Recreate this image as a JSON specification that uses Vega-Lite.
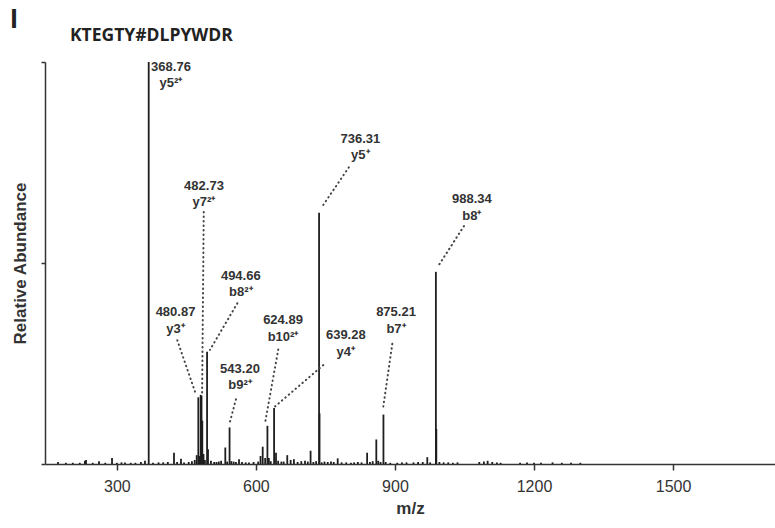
{
  "$schema": "https://vega.github.io/schema/vega-lite/v6.json",
  "autosize": {"type": "none"},
  "padding": {"left": 45, "top": 62, "right": 0, "bottom": 64},
  "width": 730,
  "height": 402,
  "background": "white",
  "config": {
    "view": {"stroke": null},
    "axis": {
      "labelFont": "Liberation Sans",
      "titleFont": "Liberation Sans",
      "domainColor": "#333333",
      "tickColor": "#333333",
      "labelColor": "#333333",
      "titleColor": "#333333",
      "domainWidth": 1.5,
      "tickWidth": 1.5,
      "grid": false
    }
  },
  "datasets": {
    "peaks": [
      {"mz": 173, "intensity": 0.5},
      {"mz": 190, "intensity": 0.3},
      {"mz": 205, "intensity": 0.3},
      {"mz": 220, "intensity": 0.3},
      {"mz": 231, "intensity": 0.8},
      {"mz": 233.5, "intensity": 1.0},
      {"mz": 248, "intensity": 0.3},
      {"mz": 261.5, "intensity": 0.7},
      {"mz": 275, "intensity": 0.3},
      {"mz": 289.6, "intensity": 1.5},
      {"mz": 300, "intensity": 0.3},
      {"mz": 310, "intensity": 0.4},
      {"mz": 317.6, "intensity": 0.4},
      {"mz": 330, "intensity": 0.3},
      {"mz": 340, "intensity": 0.3},
      {"mz": 352, "intensity": 0.5},
      {"mz": 360.7, "intensity": 0.8},
      {"mz": 368.76, "intensity": 100},
      {"mz": 378, "intensity": 0.3},
      {"mz": 390, "intensity": 0.4},
      {"mz": 400, "intensity": 0.4},
      {"mz": 410, "intensity": 0.5},
      {"mz": 423.3, "intensity": 2.8},
      {"mz": 430, "intensity": 0.5},
      {"mz": 438.4, "intensity": 1.3},
      {"mz": 445, "intensity": 0.4},
      {"mz": 455, "intensity": 0.5},
      {"mz": 462, "intensity": 0.7},
      {"mz": 468, "intensity": 1.0},
      {"mz": 472.3, "intensity": 2.2},
      {"mz": 475.8, "intensity": 16.6},
      {"mz": 478, "intensity": 2.0},
      {"mz": 480.87, "intensity": 17.2},
      {"mz": 482.73, "intensity": 17.0},
      {"mz": 484.4, "intensity": 10.8},
      {"mz": 487, "intensity": 2.5},
      {"mz": 490, "intensity": 1.0},
      {"mz": 494.66, "intensity": 27.9},
      {"mz": 496.7, "intensity": 3.7},
      {"mz": 503, "intensity": 0.8},
      {"mz": 510, "intensity": 0.5},
      {"mz": 515, "intensity": 0.5},
      {"mz": 520, "intensity": 0.6},
      {"mz": 525, "intensity": 0.8},
      {"mz": 534, "intensity": 4.1},
      {"mz": 538, "intensity": 0.6},
      {"mz": 543.2, "intensity": 9.1},
      {"mz": 547, "intensity": 0.7},
      {"mz": 552, "intensity": 0.6},
      {"mz": 557, "intensity": 0.5},
      {"mz": 563.6, "intensity": 1.2},
      {"mz": 570, "intensity": 0.5},
      {"mz": 578, "intensity": 0.4},
      {"mz": 585, "intensity": 0.4},
      {"mz": 595, "intensity": 0.5},
      {"mz": 605, "intensity": 0.6},
      {"mz": 610, "intensity": 2.0},
      {"mz": 614.7, "intensity": 4.3},
      {"mz": 620, "intensity": 1.5},
      {"mz": 624.89, "intensity": 9.5},
      {"mz": 628, "intensity": 1.5},
      {"mz": 632, "intensity": 0.7},
      {"mz": 639.28, "intensity": 13.9},
      {"mz": 643.4, "intensity": 2.8},
      {"mz": 648, "intensity": 0.8},
      {"mz": 655, "intensity": 0.6},
      {"mz": 660, "intensity": 0.6},
      {"mz": 667.7, "intensity": 2.2},
      {"mz": 675, "intensity": 1.0},
      {"mz": 682, "intensity": 1.2},
      {"mz": 690, "intensity": 0.5},
      {"mz": 698, "intensity": 0.7},
      {"mz": 706, "intensity": 0.8},
      {"mz": 712, "intensity": 0.6},
      {"mz": 718, "intensity": 3.3},
      {"mz": 724, "intensity": 0.5},
      {"mz": 730, "intensity": 0.7},
      {"mz": 736.31, "intensity": 62.5},
      {"mz": 737.3, "intensity": 12.6},
      {"mz": 742, "intensity": 0.4},
      {"mz": 748, "intensity": 0.6},
      {"mz": 755, "intensity": 0.5},
      {"mz": 762, "intensity": 0.6},
      {"mz": 768, "intensity": 0.5},
      {"mz": 776.5, "intensity": 1.4},
      {"mz": 785, "intensity": 0.4},
      {"mz": 795, "intensity": 0.4},
      {"mz": 805, "intensity": 0.3},
      {"mz": 812, "intensity": 0.4},
      {"mz": 820, "intensity": 0.5},
      {"mz": 828, "intensity": 0.4},
      {"mz": 840, "intensity": 2.8},
      {"mz": 846, "intensity": 0.5},
      {"mz": 852, "intensity": 0.7},
      {"mz": 859.8, "intensity": 6.1},
      {"mz": 864, "intensity": 0.8},
      {"mz": 869, "intensity": 0.5},
      {"mz": 875.21, "intensity": 12.3},
      {"mz": 880, "intensity": 0.5},
      {"mz": 890, "intensity": 0.3},
      {"mz": 905, "intensity": 0.3},
      {"mz": 915, "intensity": 0.4},
      {"mz": 925, "intensity": 0.4},
      {"mz": 940, "intensity": 0.4},
      {"mz": 950, "intensity": 0.5},
      {"mz": 960, "intensity": 0.5},
      {"mz": 969.8, "intensity": 1.7},
      {"mz": 976, "intensity": 0.4},
      {"mz": 988.34, "intensity": 47.8},
      {"mz": 989.3, "intensity": 8.7},
      {"mz": 996, "intensity": 0.5},
      {"mz": 1005, "intensity": 0.4},
      {"mz": 1015, "intensity": 0.4},
      {"mz": 1025, "intensity": 0.3},
      {"mz": 1035, "intensity": 0.4},
      {"mz": 1082, "intensity": 0.5},
      {"mz": 1092, "intensity": 0.6},
      {"mz": 1100, "intensity": 0.8},
      {"mz": 1110, "intensity": 0.5},
      {"mz": 1120, "intensity": 0.4},
      {"mz": 1128, "intensity": 0.3},
      {"mz": 1170, "intensity": 0.3},
      {"mz": 1185, "intensity": 0.4},
      {"mz": 1200, "intensity": 0.3},
      {"mz": 1215, "intensity": 0.3},
      {"mz": 1240, "intensity": 0.4},
      {"mz": 1260, "intensity": 0.3},
      {"mz": 1280, "intensity": 0.3},
      {"mz": 1300, "intensity": 0.3}
    ],
    "annotations": [
      {"label": "368.76\ny5²⁺", "lx": 416.8, "ly": 97.8},
      {"label": "482.73\ny7²⁺", "lx": 488, "ly": 68.2, "x1": 487.5, "y1": 62.7, "x2": 484, "y2": 17.7},
      {"label": "736.31\ny5⁺", "lx": 825.3, "ly": 79.9, "x1": 800.5, "y1": 73.8, "x2": 744, "y2": 64.2},
      {"label": "988.34\nb8⁺", "lx": 1066, "ly": 64.9, "x1": 1049, "y1": 59.2, "x2": 992, "y2": 49.0},
      {"label": "494.66\nb8²⁺", "lx": 567.4, "ly": 45.8, "x1": 560, "y1": 40.0, "x2": 501, "y2": 28.4},
      {"label": "480.87\ny3⁺", "lx": 426.6, "ly": 36.8, "x1": 430.4, "y1": 30.8, "x2": 468.6, "y2": 18.0},
      {"label": "624.89\nb10²⁺", "lx": 658.5, "ly": 34.8, "x1": 648.3, "y1": 28.5, "x2": 619.6, "y2": 10.1},
      {"label": "639.28\ny4⁺", "lx": 794, "ly": 31.0, "x1": 745.4, "y1": 24.6, "x2": 641.2, "y2": 14.3},
      {"label": "543.20\nb9²⁺", "lx": 565.7, "ly": 22.7, "x1": 557, "y1": 16.1, "x2": 544.1, "y2": 10.5},
      {"label": "875.21\nb7⁺", "lx": 902.3, "ly": 36.7, "x1": 894.3, "y1": 29.9, "x2": 874.9, "y2": 14.3}
    ],
    "headings": [
      {"text": "I", "px": 70.1, "py": 108.5, "size": 27, "font": "Liberation Sans"},
      {"text": "KTEGTY#DLPYWDR", "px": 198.9, "py": 105.2, "size": 17.5, "font": "Open Sans"}
    ]
  },
  "layer": [
    {
      "data": {"name": "peaks"},
      "mark": {"type": "rule", "color": "#1e1e1e", "strokeWidth": 1.8},
      "encoding": {
        "x": {
          "field": "mz",
          "type": "quantitative",
          "scale": {"domain": [145, 1720], "nice": false, "zero": false},
          "axis": {
            "title": "m/z",
            "values": [300, 600, 900, 1200, 1500],
            "format": "d",
            "tickSize": 6,
            "labelFontSize": 16,
            "labelPadding": 8,
            "titleFontSize": 17,
            "titleFontWeight": "bold",
            "titlePadding": 6
          }
        },
        "y": {
          "field": "intensity",
          "type": "quantitative",
          "scale": {"domain": [0, 100], "nice": false},
          "axis": {
            "title": "Relative Abundance",
            "values": [0, 50, 100],
            "labels": false,
            "tickSize": 4,
            "titleFontSize": 17,
            "titleFontWeight": "bold",
            "titlePadding": 11
          }
        },
        "y2": {"datum": 0}
      }
    },
    {
      "data": {"name": "annotations"},
      "transform": [{"filter": "isValid(datum.x1)"}],
      "mark": {"type": "rule", "color": "#444444", "strokeWidth": 2, "strokeDash": [0.5, 4], "strokeCap": "round"},
      "encoding": {
        "x": {"field": "x1", "type": "quantitative"},
        "y": {"field": "y1", "type": "quantitative"},
        "x2": {"field": "x2"},
        "y2": {"field": "y2"}
      }
    },
    {
      "data": {"name": "annotations"},
      "mark": {"type": "text", "font": "Liberation Sans", "fontWeight": "bold", "fontSize": 13, "color": "#333333", "align": "center", "baseline": "alphabetic", "lineBreak": "\n", "lineHeight": 16.5},
      "encoding": {
        "x": {"field": "lx", "type": "quantitative"},
        "y": {"field": "ly", "type": "quantitative"},
        "text": {"field": "label"}
      }
    },
    {
      "data": {"name": "headings"},
      "transform": [{"filter": "datum.font === 'Liberation Sans'"}],
      "mark": {"type": "text", "font": "Liberation Sans", "fontWeight": "bold", "color": "#222222", "align": "left", "baseline": "alphabetic", "clip": false},
      "encoding": {
        "x": {"field": "px", "type": "quantitative"},
        "y": {"field": "py", "type": "quantitative"},
        "text": {"field": "text"},
        "size": {"field": "size", "type": "quantitative", "scale": null, "legend": null}
      }
    },
    {
      "data": {"name": "headings"},
      "transform": [{"filter": "datum.font === 'Open Sans'"}],
      "mark": {"type": "text", "font": "Open Sans", "fontWeight": "bold", "color": "#222222", "align": "left", "baseline": "alphabetic", "clip": false},
      "encoding": {
        "x": {"field": "px", "type": "quantitative"},
        "y": {"field": "py", "type": "quantitative"},
        "text": {"field": "text"},
        "size": {"field": "size", "type": "quantitative", "scale": null, "legend": null}
      }
    }
  ]
}
